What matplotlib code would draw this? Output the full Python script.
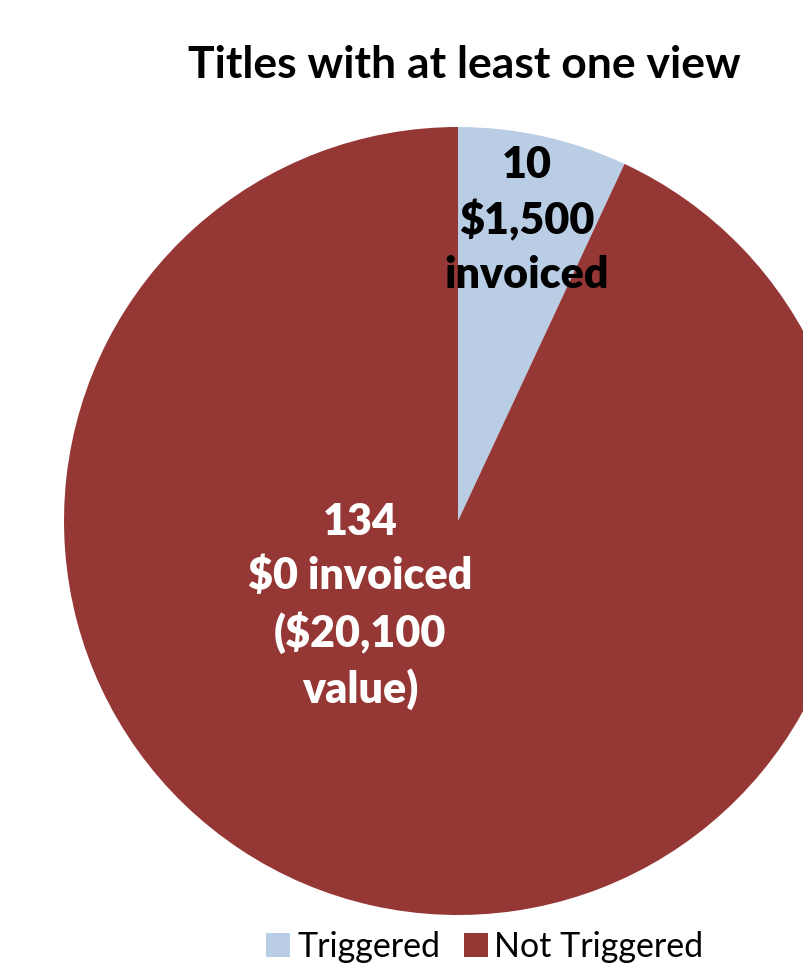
import matplotlib
matplotlib.use("Agg")
import matplotlib.pyplot as plt
from matplotlib.patches import Patch

# -----------------------------------------
# Data
# -----------------------------------------
categories = ["Triggered", "Not Triggered"]
counts = [10, 134]
slice_labels = ["10\n$1,500\ninvoiced", "134\n$0 invoiced\n($20,100\nvalue)"]
colors = ["#B9CDE5", "#953735"]
label_colors = ["black", "white"]

title = "Titles with at least one view"

plt.rcParams["font.family"] = ["Lato", "DejaVu Sans"]

# -----------------------------------------
# Figure
# -----------------------------------------
fig = plt.figure(figsize=(8.04, 9.66), dpi=100)

# pie axes, runs past the right edge like the original
ax = fig.add_axes([64 / 804, 51 / 966, 788 / 804, 788 / 966])

wedges, _ = ax.pie(
    counts,
    colors=colors,
    startangle=90,
    counterclock=False,
    radius=1.0,
    wedgeprops=dict(linewidth=0),
)
ax.set_xlim(-1, 1)
ax.set_ylim(-1, 1)
ax.set_aspect("equal")
ax.axis("off")

# slice labels
label_pos = [(0.175, 0.764), (-0.249, -0.216)]
for (x, y), txt, c in zip(label_pos, slice_labels, label_colors):
    ax.text(
        x, y, txt,
        ha="center", va="center",
        color=c, fontsize=31, fontweight="heavy",
        linespacing=1.42,
    )

# title
fig.text(464 / 804, 1 - 65 / 966, title,
         ha="center", va="center", fontsize=32, fontweight="bold")

# legend at the bottom
handles = [Patch(facecolor=c, edgecolor="none") for c in colors]
fig.legend(
    handles, categories,
    loc="center", bbox_to_anchor=(485 / 804, 1 - 947 / 966),
    ncol=2, frameon=False, fontsize=24.5,
    handlelength=0.7, handleheight=0.7,
    handletextpad=0.2, columnspacing=0.7,
    borderpad=0.1,
)

fig.savefig("out.png", dpi=100)
